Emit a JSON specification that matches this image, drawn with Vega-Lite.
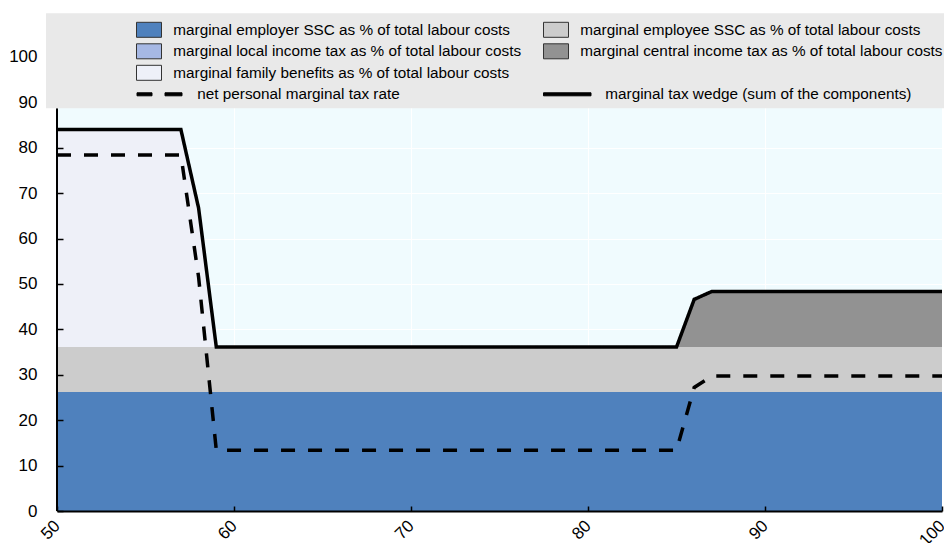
{
  "$schema": "https://vega.github.io/schema/vega-lite/v6.json",
  "width": 885,
  "height": 495,
  "autosize": {"type": "none"},
  "padding": {"left": 57, "top": 16, "right": 2, "bottom": 32},
  "background": "white",
  "view": {"fill": "#f0fbfe", "stroke": null},
  "datasets": {
    "components": [
      {"income": 50, "component": "marginal employer SSC as % of total labour costs", "rank": 1, "value": 26.2},
      {"income": 50, "component": "marginal employee SSC as % of total labour costs", "rank": 2, "value": 9.9},
      {"income": 50, "component": "marginal central income tax as % of total labour costs", "rank": 3, "value": 0},
      {"income": 50, "component": "marginal family benefits as % of total labour costs", "rank": 4, "value": 47.9},
      {"income": 57, "component": "marginal employer SSC as % of total labour costs", "rank": 1, "value": 26.2},
      {"income": 57, "component": "marginal employee SSC as % of total labour costs", "rank": 2, "value": 9.9},
      {"income": 57, "component": "marginal central income tax as % of total labour costs", "rank": 3, "value": 0},
      {"income": 57, "component": "marginal family benefits as % of total labour costs", "rank": 4, "value": 47.9},
      {"income": 58, "component": "marginal employer SSC as % of total labour costs", "rank": 1, "value": 26.2},
      {"income": 58, "component": "marginal employee SSC as % of total labour costs", "rank": 2, "value": 9.9},
      {"income": 58, "component": "marginal central income tax as % of total labour costs", "rank": 3, "value": 0},
      {"income": 58, "component": "marginal family benefits as % of total labour costs", "rank": 4, "value": 30.6},
      {"income": 59, "component": "marginal employer SSC as % of total labour costs", "rank": 1, "value": 26.2},
      {"income": 59, "component": "marginal employee SSC as % of total labour costs", "rank": 2, "value": 9.9},
      {"income": 59, "component": "marginal central income tax as % of total labour costs", "rank": 3, "value": 0},
      {"income": 59, "component": "marginal family benefits as % of total labour costs", "rank": 4, "value": 0},
      {"income": 85, "component": "marginal employer SSC as % of total labour costs", "rank": 1, "value": 26.2},
      {"income": 85, "component": "marginal employee SSC as % of total labour costs", "rank": 2, "value": 9.9},
      {"income": 85, "component": "marginal central income tax as % of total labour costs", "rank": 3, "value": 0},
      {"income": 85, "component": "marginal family benefits as % of total labour costs", "rank": 4, "value": 0},
      {"income": 86, "component": "marginal employer SSC as % of total labour costs", "rank": 1, "value": 26.2},
      {"income": 86, "component": "marginal employee SSC as % of total labour costs", "rank": 2, "value": 9.9},
      {"income": 86, "component": "marginal central income tax as % of total labour costs", "rank": 3, "value": 10.5},
      {"income": 86, "component": "marginal family benefits as % of total labour costs", "rank": 4, "value": 0},
      {"income": 87, "component": "marginal employer SSC as % of total labour costs", "rank": 1, "value": 26.2},
      {"income": 87, "component": "marginal employee SSC as % of total labour costs", "rank": 2, "value": 9.9},
      {"income": 87, "component": "marginal central income tax as % of total labour costs", "rank": 3, "value": 12.25},
      {"income": 87, "component": "marginal family benefits as % of total labour costs", "rank": 4, "value": 0},
      {"income": 100, "component": "marginal employer SSC as % of total labour costs", "rank": 1, "value": 26.2},
      {"income": 100, "component": "marginal employee SSC as % of total labour costs", "rank": 2, "value": 9.9},
      {"income": 100, "component": "marginal central income tax as % of total labour costs", "rank": 3, "value": 12.25},
      {"income": 100, "component": "marginal family benefits as % of total labour costs", "rank": 4, "value": 0}
    ],
    "lines": [
      {"income": 50, "series": "marginal tax wedge (sum of the components)", "value": 84.0},
      {"income": 57, "series": "marginal tax wedge (sum of the components)", "value": 84.0},
      {"income": 58, "series": "marginal tax wedge (sum of the components)", "value": 66.7},
      {"income": 59, "series": "marginal tax wedge (sum of the components)", "value": 36.1},
      {"income": 85, "series": "marginal tax wedge (sum of the components)", "value": 36.1},
      {"income": 86, "series": "marginal tax wedge (sum of the components)", "value": 46.6},
      {"income": 87, "series": "marginal tax wedge (sum of the components)", "value": 48.35},
      {"income": 100, "series": "marginal tax wedge (sum of the components)", "value": 48.35},
      {"income": 50, "series": "net personal marginal tax rate", "value": 78.4},
      {"income": 57, "series": "net personal marginal tax rate", "value": 78.4},
      {"income": 58, "series": "net personal marginal tax rate", "value": 51.5},
      {"income": 59, "series": "net personal marginal tax rate", "value": 13.4},
      {"income": 85, "series": "net personal marginal tax rate", "value": 13.4},
      {"income": 86, "series": "net personal marginal tax rate", "value": 27.2},
      {"income": 87, "series": "net personal marginal tax rate", "value": 29.7},
      {"income": 100, "series": "net personal marginal tax rate", "value": 29.7}
    ]
  },
  "resolve": {"axis": {"x": "independent", "y": "independent"}},
  "layer": [
    {
      "data": {"name": "components"},
      "mark": {"type": "area", "interpolate": "linear"},
      "encoding": {
        "x": {
          "field": "income",
          "type": "quantitative",
          "scale": {"domain": [50, 100], "nice": false, "zero": false},
          "axis": {
            "orient": "bottom",
            "values": [50, 60, 70, 80, 90, 100],
            "grid": true,
            "gridColor": "white",
            "gridWidth": 1,
            "domain": false,
            "ticks": false,
            "labels": false,
            "title": null,
            "zindex": 0
          }
        },
        "y": {
          "field": "value",
          "type": "quantitative",
          "stack": "zero",
          "scale": {"domain": [0, 109], "nice": false},
          "axis": {
            "orient": "left",
            "values": [0, 10, 20, 30, 40, 50, 60, 70, 80, 90, 100],
            "grid": true,
            "gridColor": "white",
            "gridWidth": 1,
            "domain": false,
            "ticks": false,
            "labels": false,
            "title": null,
            "zindex": 0
          }
        },
        "order": {"field": "rank", "type": "quantitative"},
        "color": {
          "field": "component",
          "type": "nominal",
          "scale": {
            "domain": [
              "marginal employer SSC as % of total labour costs",
              "marginal employee SSC as % of total labour costs",
              "marginal local income tax as % of total labour costs",
              "marginal central income tax as % of total labour costs",
              "marginal family benefits as % of total labour costs",
              " ",
              "net personal marginal tax rate",
              "marginal tax wedge (sum of the components)"
            ],
            "range": ["#4f81bd", "#cccccc", "#a6b8e4", "#929292", "#eef0f8", "white", "black", "black"]
          },
          "legend": {
            "title": null,
            "orient": "none",
            "direction": "horizontal",
            "legendX": 79,
            "legendY": 3.3,
            "columns": 2,
            "columnPadding": 19,
            "rowPadding": 1.5,
            "padding": 0,
            "symbolSize": 400,
            "symbolStrokeWidth": 1,
            "symbolStrokeColor": "#333333",
            "labelFont": "Liberation Sans",
            "labelFontSize": 15.3,
            "labelColor": "black",
            "labelOffset": 16.3,
            "labelLimit": 700,
            "encode": {
              "symbols": {
                "update": {
                  "shape": [
                    {"test": "datum.value === 'net personal marginal tax rate'", "value": "M-0.95,-0.15H0.55V0.15H-0.95Z M1.85,-0.15H3.55V0.15H1.85Z"},
                    {"test": "datum.value === 'marginal tax wedge (sum of the components)'", "value": "M-1,-0.15H3.75V0.15H-1Z"},
                    {"value": "M-1,-0.75H1.5V0.75H-1Z"}
                  ],
                  "stroke": [
                    {"test": "datum.value === ' '", "value": "transparent"},
                    {"test": "datum.value === 'net personal marginal tax rate' || datum.value === 'marginal tax wedge (sum of the components)'", "value": "black"},
                    {"value": "#333333"}
                  ],
                  "opacity": [
                    {"test": "datum.value === ' '", "value": 0},
                    {"value": 1}
                  ]
                }
              },
              "labels": {
                "update": {
                  "dx": [
                    {"test": "datum.value === 'net personal marginal tax rate'", "value": 24},
                    {"test": "datum.value === 'marginal tax wedge (sum of the components)'", "value": 25},
                    {"value": 0}
                  ]
                }
              }
            }
          }
        }
      }
    },
    {
      "data": {"name": "lines"},
      "mark": {"type": "line", "color": "black", "strokeWidth": 3.5, "strokeCap": "butt", "strokeJoin": "miter"},
      "encoding": {
        "x": {
          "field": "income",
          "type": "quantitative",
          "axis": {
            "orient": "bottom",
            "values": [50, 60, 70, 80, 90, 100],
            "grid": false,
            "title": null,
            "domain": true,
            "domainColor": "black",
            "domainWidth": 2,
            "tickColor": "black",
            "tickSize": -5,
            "tickWidth": 1.5,
            "labelAngle": -45,
            "labelAlign": "right",
            "labelBaseline": "middle",
            "labelPadding": 17,
            "labelFont": "Liberation Sans",
            "labelFontSize": 17,
            "labelColor": "black",
            "labelFlush": false,
            "labelOverlap": false,
            "zindex": 1
          }
        },
        "y": {
          "field": "value",
          "type": "quantitative",
          "stack": null,
          "axis": {
            "orient": "left",
            "values": [0, 10, 20, 30, 40, 50, 60, 70, 80, 90, 100],
            "grid": false,
            "title": null,
            "domain": false,
            "tickColor": "black",
            "tickSize": -6,
            "tickWidth": 1.5,
            "tickOpacity": {"condition": {"test": "datum.value > 85", "value": 0}, "value": 1},
            "labelPadding": 26,
            "labelFont": "Liberation Sans",
            "labelFontSize": 17,
            "labelColor": "black",
            "zindex": 1
          }
        },
        "strokeDash": {
          "field": "series",
          "type": "nominal",
          "scale": {
            "domain": ["net personal marginal tax rate", "marginal tax wedge (sum of the components)"],
            "range": [[14, 13], [1, 0]]
          },
          "legend": null
        }
      }
    },
    {
      "data": {"values": [{}]},
      "mark": {"type": "rule", "color": "black", "strokeWidth": 2},
      "encoding": {
        "x": {"datum": 50, "axis": null},
        "y": {"datum": 0, "axis": null},
        "y2": {"datum": 88.7}
      }
    },
    {
      "data": {"values": [{}]},
      "mark": {"type": "rect", "color": "#e9e9e9"},
      "encoding": {
        "x": {"datum": 49.38, "axis": null},
        "x2": {"datum": 100.3},
        "y": {"datum": 88.7, "axis": null},
        "y2": {"datum": 109.6}
      }
    }
  ]
}
